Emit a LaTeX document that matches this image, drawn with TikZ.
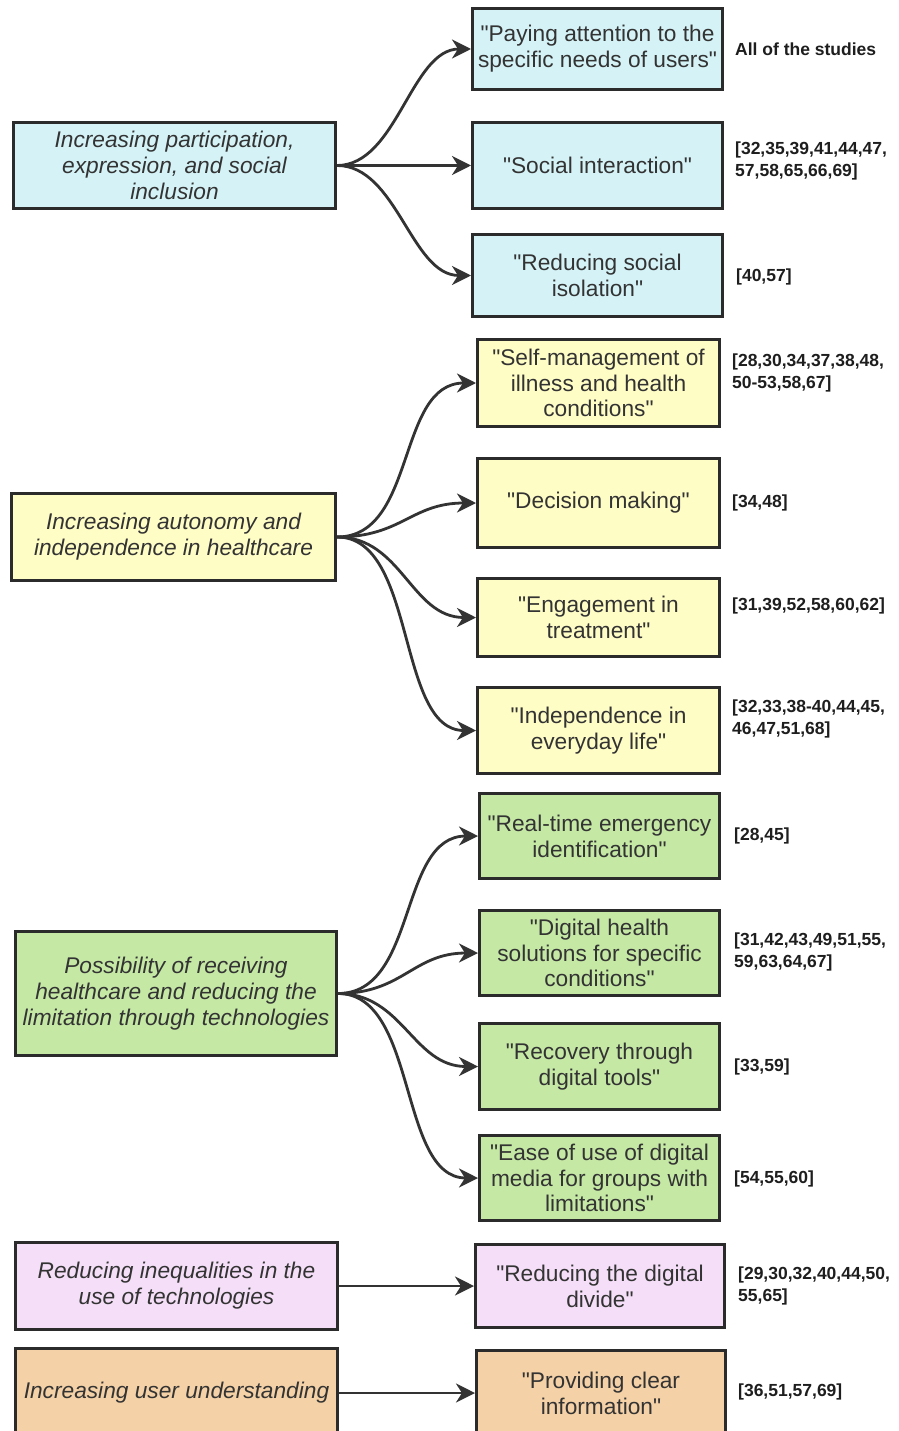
\documentclass[tikz,border=0pt]{standalone}
\usepackage{fontspec}
\setmainfont{Liberation Sans}[Ligatures=TeXOff]
\usetikzlibrary{arrows.meta}

\definecolor{cyanfill}{HTML}{D5F3F7}
\definecolor{yellowfill}{HTML}{FFFDC6}
\definecolor{greenfill}{HTML}{C5E8A5}
\definecolor{pinkfill}{HTML}{F5DFF8}
\definecolor{orangefill}{HTML}{F4D1A6}
\definecolor{boxline}{HTML}{2B2B2B}
\definecolor{linkcol}{HTML}{333333}
\definecolor{txt}{HTML}{333333}
\definecolor{reftxt}{HTML}{1E1E1E}

% straight double quote
\newcommand{\dq}{\symbol{34}}

\tikzset{
  box/.style={draw=boxline, line width=3pt, align=center, inner sep=0pt,
    text=txt, font=\fontsize{22.7}{25.8}\selectfont},
  theme/.style={box, font=\itshape\fontsize{22.7}{25.8}\selectfont},
  ref/.style={anchor=west, align=left, inner sep=0pt, text=reftxt,
    font=\bfseries\fontsize{17.5}{21.5}\selectfont},
  link/.style={draw=linkcol, line width=2.8pt,
    -{Stealth[length=19pt,width=19pt,inset=6pt]}},
}

\begin{document}
\begin{tikzpicture}[x=1pt,y=-1pt]
\useasboundingbox (0,0) rectangle (898,1431);
\clip (0,0) rectangle (898,1431);
\fill[white] (0,0) rectangle (898,1431);

% --- participation and social inclusion ---
\node[theme, fill=cyanfill, minimum width=322, minimum height=86] (p1) at (174.5,165.5)
  {Increasing participation,\\expression, and social\\inclusion};
\node[box, fill=cyanfill, minimum width=250, minimum height=81] (c11) at (597.5,49)
  {\dq Paying attention to the\\specific needs of users\dq};
\node[box, fill=cyanfill, minimum width=250, minimum height=86] (c12) at (597.5,165.5)
  {\dq Social interaction\dq};
\node[box, fill=cyanfill, minimum width=250, minimum height=82] (c13) at (597.5,275.5)
  {\dq Reducing social\\isolation\dq};
\node[ref] (r11) at (735,49) {All of the studies};
\node[ref] (r12) at (735,161) {[32,35,39,41,44,47,\\57,58,65,66,69]};
\node[ref] (r13) at (736,277) {[40,57]};

\draw[link] (p1.east) .. controls +(60,0) and +(-60,0) .. (c11.west);
\draw[link] (p1.east) -- (c12.west);
\draw[link] (p1.east) .. controls +(60,0) and +(-60,0) .. (c13.west);

% --- autonomy in healthcare ---
\node[theme, fill=yellowfill, minimum width=324, minimum height=87] (p2) at (173.5,537)
  {Increasing autonomy and\\independence in healthcare};
\node[box, fill=yellowfill, minimum width=242, minimum height=87] (c21) at (598.5,383)
  {\dq Self-management of\\illness and health\\conditions\dq};
\node[box, fill=yellowfill, minimum width=242, minimum height=89] (c22) at (598.5,503)
  {\dq Decision making\dq};
\node[box, fill=yellowfill, minimum width=242, minimum height=78] (c23) at (598.5,617.5)
  {\dq Engagement in\\treatment\dq};
\node[box, fill=yellowfill, minimum width=242, minimum height=86] (c24) at (598.5,730.5)
  {\dq Independence in\\everyday life\dq};
\node[ref] (r21) at (732,373) {[28,30,34,37,38,48,\\50-53,58,67]};
\node[ref] (r22) at (732,503) {[34,48]};
\node[ref] (r23) at (732,606) {[31,39,52,58,60,62]};
\node[ref] (r24) at (732,719) {[32,33,38-40,44,45,\\46,47,51,68]};

\draw[link] (p2.east) .. controls +(80,0) and +(-80,0) .. (c21.west);
\draw[link] (p2.east) .. controls +(65,0) and +(-65,0) .. (c22.west);
\draw[link] (p2.east) .. controls +(65,0) and +(-65,0) .. (c23.west);
\draw[link] (p2.east) .. controls +(80,0) and +(-80,0) .. (c24.west);

% --- care through technologies ---
\node[theme, fill=greenfill, minimum width=321, minimum height=124] (p3) at (176,993.5)
  {Possibility of receiving\\healthcare and reducing the\\limitation through technologies};
\node[box, fill=greenfill, minimum width=240, minimum height=85] (c31) at (599.5,836)
  {\dq Real-time emergency\\identification\dq};
\node[box, fill=greenfill, minimum width=240, minimum height=85] (c32) at (599.5,953)
  {\dq Digital health\\solutions for specific\\conditions\dq};
\node[box, fill=greenfill, minimum width=240, minimum height=86] (c33) at (599.5,1066.5)
  {\dq Recovery through\\digital tools\dq};
\node[box, fill=greenfill, minimum width=240, minimum height=85] (c34) at (599.5,1178)
  {\dq Ease of use of digital\\media for groups with\\limitations\dq};
\node[ref] (r31) at (734,836) {[28,45]};
\node[ref] (r32) at (734,952) {[31,42,43,49,51,55,\\59,63,64,67]};
\node[ref] (r33) at (734,1067) {[33,59]};
\node[ref] (r34) at (734,1179) {[54,55,60]};

\draw[link] (p3.east) .. controls +(80,0) and +(-80,0) .. (c31.west);
\draw[link] (p3.east) .. controls +(65,0) and +(-65,0) .. (c32.west);
\draw[link] (p3.east) .. controls +(65,0) and +(-65,0) .. (c33.west);
\draw[link] (p3.east) .. controls +(80,0) and +(-80,0) .. (c34.west);

% --- inequalities ---
\node[theme, fill=pinkfill, minimum width=322, minimum height=87] (p4) at (176.5,1286)
  {Reducing inequalities in the\\use of technologies};
\node[box, fill=pinkfill, minimum width=249, minimum height=83] (c41) at (600,1286)
  {\dq Reducing the digital\\divide\dq};
\node[ref] (r41) at (738,1286) {[29,30,32,40,44,50,\\55,65]};
\draw[link] (p4.east) -- (c41.west);

% --- user understanding ---
\node[theme, fill=orangefill, minimum width=322, minimum height=89] (p5) at (176.5,1393)
  {Increasing user understanding};
\node[box, fill=orangefill, minimum width=249, minimum height=85] (c51) at (601,1393)
  {\dq Providing clear\\information\dq};
\node[ref] (r51) at (738,1392) {[36,51,57,69]};
\draw[link] (p5.east) -- (c51.west);
\end{tikzpicture}
\end{document}
